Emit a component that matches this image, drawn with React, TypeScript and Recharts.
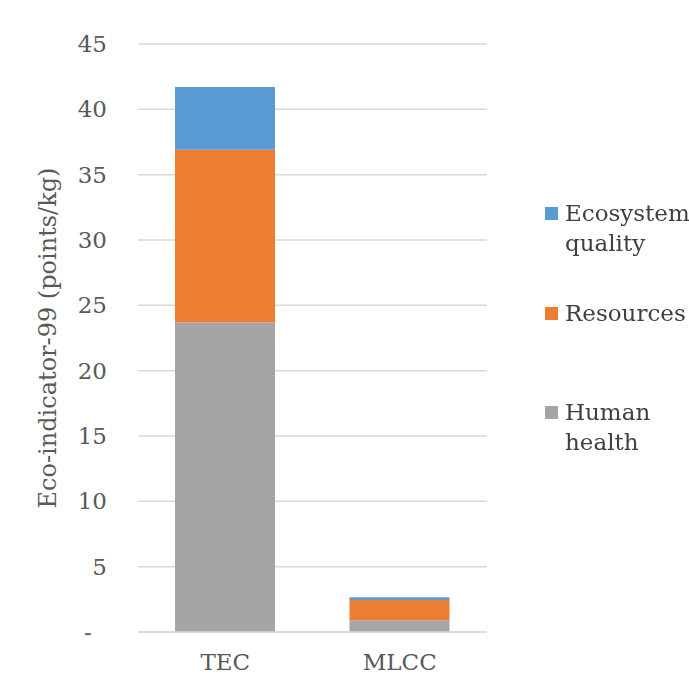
import { BarChart, Bar, XAxis, YAxis, CartesianGrid, Legend, Label } from "recharts"

// products compared
const categories = ["TEC", "MLCC"]

// Eco-indicator-99 damage categories (points/kg), bottom to top in the stack
const humanHealth = [23.7, 0.9]
const resources = [13.2, 1.55]
const ecosystemQuality = [4.8, 0.2]

const yTicks = [0, 5, 10, 15, 20, 25, 30, 35, 40, 45]

const series = [
    { key: "human", name: "Human health", color: "#A5A5A5" },
    { key: "resources", name: "Resources", color: "#ED7D31" },
    { key: "ecosystem", name: "Ecosystem quality", color: "#5B9BD5" },
]

const data = categories.map((name, i) => ({
    name,
    human: humanHealth[i],
    resources: resources[i],
    ecosystem: ecosystemQuality[i],
}))

const FONT = "DejaVu Serif"
const TEXT = "#595959"

// Excel accounting style: zero shows as a dash
const YTick = ({ x, y, payload }: any) => {
    const zero = payload.value === 0
    return (
        <text
            x={zero ? x - 19 : x}
            y={y}
            dy="0.35em"
            textAnchor={zero ? "middle" : "end"}
            fill={TEXT}
            fontFamily={FONT}
            fontSize={23}
        >
            {zero ? "-" : payload.value}
        </text>
    )
}

const XTick = ({ x, y, payload }: any) => (
    <text x={x} y={y + 38} textAnchor="middle" fill={TEXT} fontFamily={FONT} fontSize={23}>
        {payload.value}
    </text>
)

const YLabel = ({ viewBox }: any) => {
    const cx = viewBox.x + 48
    const cy = viewBox.y + viewBox.height / 2
    return (
        <text
            x={cx}
            y={cy}
            transform={`rotate(-90 ${cx} ${cy})`}
            textAnchor="middle"
            dominantBaseline="central"
            fill={TEXT}
            fontFamily={FONT}
            fontSize={24}
        >
            Eco-indicator-99 (points/kg)
        </text>
    )
}

const renderLegend = () => (
    <div style={{ fontFamily: FONT, fontSize: 23, lineHeight: "30px", color: "#404040" }}>
        {[...series].reverse().map((s) => (
            <div key={s.key} style={{ display: "flex", height: 99.5 }}>
                <span
                    style={{
                        width: 13,
                        height: 13,
                        marginTop: 9,
                        marginRight: 7,
                        background: s.color,
                        flex: "none",
                    }}
                />
                <span style={{ width: 124 }}>{s.name}</span>
            </div>
        ))}
    </div>
)

export default function App() {
    return (
        <div style={{ position: "fixed", left: 0, top: 0, width: 689, height: 692, background: "#fff" }}>
            <BarChart
                width={689}
                height={692}
                data={data}
                margin={{ top: 44, right: 202, bottom: 0, left: 0 }}
            >
                <CartesianGrid vertical={false} stroke="#D9D9D9" strokeWidth={1.5} />
                <XAxis
                    dataKey="name"
                    height={60}
                    tickLine={false}
                    tickSize={0}
                    tickMargin={0}
                    axisLine={{ stroke: "#D9D9D9", strokeWidth: 1.5 }}
                    tick={<XTick />}
                />
                <YAxis
                    width={138}
                    domain={[0, 45]}
                    ticks={yTicks}
                    axisLine={false}
                    tickLine={false}
                    tickSize={0}
                    tickMargin={31}
                    tick={<YTick />}
                >
                    <Label content={<YLabel />} />
                </YAxis>
                <Legend
                    layout="vertical"
                    align="center"
                    verticalAlign="middle"
                    wrapperStyle={{ left: 545, top: 198, width: 144 }}
                    content={renderLegend}
                />
                {series.map((s) => (
                    <Bar
                        key={s.key}
                        dataKey={s.key}
                        name={s.name}
                        stackId="a"
                        fill={s.color}
                        barSize={100}
                        isAnimationActive={false}
                    />
                ))}
            </BarChart>
        </div>
    )
}
